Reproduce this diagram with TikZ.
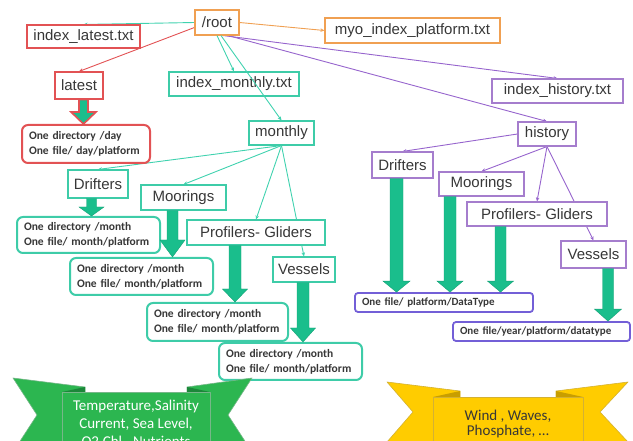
\documentclass[tikz,border=0pt]{standalone}
\usepackage{fontspec}
\setmainfont{Liberation Sans}
\newfontfamily\calib{Carlito}
\usetikzlibrary{arrows.meta,calc,backgrounds}
\definecolor{teal1}{RGB}{62,204,168}
\definecolor{tealline}{RGB}{64,210,175}
\definecolor{red1}{RGB}{226,82,84}
\definecolor{orange1}{RGB}{240,160,82}
\definecolor{purp1}{RGB}{150,100,205}
\definecolor{purpbox}{RGB}{165,125,205}
\definecolor{blupurp}{RGB}{115,95,215}
\definecolor{agreen}{RGB}{26,190,140}
\definecolor{txt}{RGB}{55,55,55}
\definecolor{bgreen}{RGB}{44,182,80}
\definecolor{bgreenD}{RGB}{28,135,58}
\definecolor{byel}{RGB}{255,204,0}
\definecolor{byelD}{RGB}{200,158,0}
\newcommand{\blockarr}[6]{%
  \draw[#1] let \p1=(#2), \p2=(#3) in
    (\x1-#4,\y1) -- (\x1-#4,\y2+#6) -- (\x1-#5,\y2+#6) -- (\x1,\y2)
    -- (\x1+#5,\y2+#6) -- (\x1+#4,\y2+#6) -- (\x1+#4,\y1) -- cycle;}
\begin{document}
\begin{tikzpicture}[x=1pt,y=-1pt,
  lab/.style={draw, fill=white, line width=1.1pt, inner sep=0pt, text=txt,
    font=\fontsize{15}{18}\selectfont},
  tbox/.style={lab, draw=teal1},
  rbox/.style={lab, draw=red1},
  obox/.style={lab, draw=orange1},
  pbox/.style={lab, draw=purpbox},
  info/.style={draw=teal1, fill=white, rounded corners=6pt, line width=2pt,
    inner xsep=7pt, inner ysep=0pt, align=left, text=txt,
    font=\calib\bfseries\fontsize{11.5}{15}\selectfont},
  hinfo/.style={draw=blupurp, fill=white, rounded corners=3pt, line width=1.8pt,
    inner xsep=7pt, inner ysep=0pt, align=left, text=txt,
    font=\calib\bfseries\fontsize{11}{13}\selectfont},
  conn/.style={line width=0.9pt, -{Stealth[length=4pt,width=3.5pt]}},
  tl/.style={conn, draw=tealline},
  rl/.style={conn, draw=red1},
  ol/.style={conn, draw=orange1},
  pl/.style={conn, draw=purp1},
  garrow/.style={fill=agreen, draw=agreen!85!black, line width=0.4pt},
  redarrow/.style={fill=agreen, draw=red1, line width=1.6pt},
  banner/.style={line width=0.6pt, line join=round}
]
\useasboundingbox (0,0) rectangle (633,441);
\clip (0,0) rectangle (633,441);

% ---- boxes
\node[obox, minimum width=44pt, minimum height=25pt] (root) at (217,22.5) {/root};
\node[rbox, minimum width=113pt, minimum height=23pt] (ilt) at (83.5,36.5) {index\_latest.txt};
\node[obox, minimum width=175pt, minimum height=25pt] (myo) at (412.5,30.5) {myo\_index\_platform.txt};
\node[rbox, minimum width=48pt, minimum height=27pt] (latest) at (79,85.5) {latest};
\node[tbox, minimum width=130pt, minimum height=24pt] (imo) at (234,84) {index\_monthly.txt};
\node[tbox, minimum width=65pt, minimum height=24pt] (monthly) at (281.5,133) {monthly};
\node[pbox, minimum width=131pt, minimum height=24pt] (ihi) at (557.5,91) {index\_history.txt};
\node[pbox, minimum width=58pt, minimum height=24pt] (history) at (547,134) {history};

\node[info, draw=red1, text width=114pt, minimum height=38pt] (dayb) at (86,144)
  {One directory /day\\One file/ day/platform};

\node[tbox, minimum width=60pt, minimum height=28pt] (mDr) at (98,184) {Drifters};
\node[tbox, minimum width=85pt, minimum height=25pt] (mMo) at (183.5,197.5) {Moorings};
\node[tbox, minimum width=138pt, minimum height=25pt] (mPG) at (256,232.5) {Profilers- Gliders};
\node[tbox, minimum width=62pt, minimum height=25pt] (mVe) at (304,269.5) {Vessels};

\node[info, text width=129pt, minimum height=36pt] (mb1) at (88.5,235)
  {One directory /month\\One file/ month/platform};
\node[info, text width=129pt, minimum height=37pt] (mb2) at (141.5,276.5)
  {One directory /month\\One file/ month/platform};
\node[info, text width=127pt, minimum height=38pt] (mb3) at (217.5,322)
  {One directory /month\\One file/ month/platform};
\node[info, text width=129pt, minimum height=37pt] (mb4) at (290.5,361.5)
  {One directory /month\\One file/ month/platform};

\node[pbox, minimum width=61pt, minimum height=26pt] (hDr) at (402.5,165) {Drifters};
\node[pbox, minimum width=85pt, minimum height=24pt] (hMo) at (481.5,184) {Moorings};
\node[pbox, minimum width=140pt, minimum height=24pt] (hPG) at (537,214) {Profilers- Gliders};
\node[pbox, minimum width=65pt, minimum height=27pt] (hVe) at (593.5,254.5) {Vessels};

\node[hinfo, text width=164pt, minimum height=19pt] (hb1) at (444,302.5) {One file/ platform/DataType};
\node[hinfo, text width=163pt, minimum height=19pt] (hb2) at (541.5,331.5) {One file/year/platform/datatype};

% ---- connectors behind boxes
\begin{pgfonlayer}{background}
\draw[tl] (root.west) -- (ilt.north);
\draw[rl] ([yshift=-5pt]root.west) -- (latest.north);
\draw[ol] (root.east) -- (myo.west);
\draw[pl] (root.-65) -- (ihi.north);
\draw[pl] (root.-50) -- (history.north);
\draw[tl] (monthly.south) -- (mDr.north);
\draw[tl] (monthly.south) -- (mMo.north);
\draw[tl] (monthly.south) -- (mPG.north);
\draw[tl] (monthly.south) -- (mVe.north);
\draw[pl] (history.west) -- (hDr.north);
\draw[pl] (history.south) -- (hMo.north);
\draw[pl] (history.south) -- (hPG.north);
\draw[pl] (history.south) -- (hVe.north);
\end{pgfonlayer}
\draw[tl] (root.south) -- (imo.north);
\draw[tl] ([xshift=4pt]root.south) -- (monthly.north);

% ---- block arrows
\blockarr{redarrow}{[xshift=4.5pt]latest.south}{dayb.north}{4.5pt}{12.5pt}{12pt}
\blockarr{garrow}{[xshift=-6.5pt]mDr.south}{mb1.north}{5pt}{12.5pt}{9pt}
\blockarr{garrow}{[xshift=-11pt]mMo.south}{mb2.north}{5.5pt}{12.5pt}{17pt}
\blockarr{garrow}{[xshift=-21pt]mPG.south}{mb3.north}{6pt}{12.5pt}{13pt}
\blockarr{garrow}{[xshift=-1pt]mVe.south}{mb4.north}{6pt}{12.5pt}{14pt}
\blockarr{garrow}{[xshift=-6pt]hDr.south}{hb1.north}{6.5pt}{13.5pt}{11pt}
\blockarr{garrow}{[xshift=-31.5pt]hMo.south}{hb1.north}{6pt}{13pt}{11pt}
\blockarr{garrow}{[xshift=-36.5pt]hPG.south}{hb1.north}{5.5pt}{13pt}{11pt}
\blockarr{garrow}{[xshift=14.5pt]hVe.south}{hb2.north}{5.5pt}{13.5pt}{12pt}

% ---- green banner
\filldraw[banner, fill=bgreen, draw=bgreenD!60] (13,378) -- (85,387) -- (85,458) -- (13,452) -- (37,415) -- cycle;
\filldraw[banner, fill=bgreen, draw=bgreenD!60] (252,378) -- (187,387) -- (187,458) -- (252,452) -- (228,415) -- cycle;
\fill[bgreenD] (62,392) -- (85,387) -- (85,392) -- cycle;
\fill[bgreenD] (210,392) -- (187,387) -- (187,392) -- cycle;
\filldraw[banner, fill=bgreen, draw=bgreenD!60] (62,392) rectangle (210,460);
\node[font=\calib\fontsize{15}{18}\selectfont, text=white, align=center] (gtxt) at (136,424)
  {Temperature,Salinity\\Current, Sea Level,\\O2,Chl., Nutrients};

% ---- yellow banner
\filldraw[banner, fill=byel, draw=byelD!80] (387,382) -- (460,391) -- (460,460) -- (387,442) -- (413,412) -- cycle;
\filldraw[banner, fill=byel, draw=byelD!80] (628,382) -- (556,391) -- (556,460) -- (628,442) -- (600,412) -- cycle;
\fill[byelD] (433,397) -- (460,391) -- (460,397) -- cycle;
\fill[byelD] (583,397) -- (556,391) -- (556,397) -- cycle;
\filldraw[banner, fill=byel, draw=byelD!80] (433,397) rectangle (583,460);
\node[font=\calib\fontsize{15}{15}\selectfont, text=txt, align=center] (ytxt) at (508,424.5)
  {Wind , Waves,\\Phosphate, \ldots};
\end{tikzpicture}
\end{document}
